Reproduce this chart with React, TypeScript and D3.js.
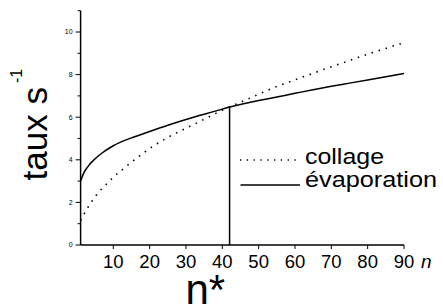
import React from "react";
import * as d3 from "d3";

const nEvap = [1, 2, 3, 5, 7, 10, 15, 20, 25, 30, 35, 40, 42, 45, 50, 55, 60, 65, 70, 75, 80, 85, 90];
const evaporation = [3.0, 3.42, 3.68, 4.05, 4.33, 4.66, 5.03, 5.33, 5.62, 5.89, 6.14, 6.38, 6.48, 6.6, 6.78, 6.95, 7.12, 7.29, 7.45, 7.6, 7.75, 7.9, 8.05];

const nColl = [1, 2, 3, 4, 5, 6, 8, 10, 12, 15, 18, 20, 22, 25, 30, 35, 40, 42, 45, 50, 55, 60, 65, 70, 75, 80, 85, 90];
const collage = [1.15, 1.47, 1.76, 2.03, 2.27, 2.48, 2.84, 3.18, 3.47, 3.89, 4.28, 4.53, 4.75, 5.05, 5.48, 5.9, 6.33, 6.48, 6.7, 7.08, 7.44, 7.75, 8.06, 8.37, 8.66, 8.96, 9.23, 9.5];

const xTicks = [10, 20, 30, 40, 50, 60, 70, 80, 90];
const yMajor = [0, 2, 4, 6, 8, 10];
const yMinor = [1, 3, 5, 7, 9, 11];
const nStar = 42;
const nStarValue = 6.48;

const FONT = "'Liberation Sans', Arial, Helvetica, sans-serif";

export default function App() {
  const W = 443, H = 307;
  const x = d3.scaleLinear().domain([1, 90]).range([80.6, 404]);
  const y = d3.scaleLinear().domain([0, 11]).range([245, 10.7]);

  const line = d3
    .line<[number, number]>()
    .x((d) => x(d[0]))
    .y((d) => y(d[1]))
    .curve(d3.curveMonotoneX);

  const evapPath = line(nEvap.map((n, i) => [n, evaporation[i]] as [number, number])) || "";
  const collPath = line(nColl.map((n, i) => [n, collage[i]] as [number, number])) || "";

  const x0 = x(1);
  const y0 = y(0);

  return (
    <svg
      width={W}
      height={H}
      style={{ position: "absolute", left: 0, top: 0, background: "#fff" }}
      fontFamily={FONT}
    >
      <rect width={W} height={H} fill="#fff" />
      {/* curves */}
      <path d={collPath} fill="none" stroke="#000" strokeWidth={1.6} strokeDasharray="1.5 5.8" />
      <path d={evapPath} fill="none" stroke="#000" strokeWidth={1.5} />
      {/* n* vertical line */}
      <line x1={x(nStar)} x2={x(nStar)} y1={y0} y2={y(nStarValue)} stroke="#000" strokeWidth={1.5} />

      {/* axes */}
      <line x1={x0} x2={x0} y1={y0} y2={y(11)} stroke="#000" strokeWidth={1.5} />
      <line x1={x0} x2={x(90)} y1={y0} y2={y0} stroke="#000" strokeWidth={1.5} />

      {yMajor.map((v) => (
        <g key={"ym" + v}>
          <line x1={x0 - 5} x2={x0} y1={y(v)} y2={y(v)} stroke="#000" strokeWidth={1} />
          <text x={x0 - 8} y={y(v)} dy="0.35em" fontSize={7} textAnchor="end" fill="#000">
            {v}
          </text>
        </g>
      ))}
      {yMinor.map((v) => (
        <line key={"yn" + v} x1={x0 - 3} x2={x0} y1={y(v)} y2={y(v)} stroke="#000" strokeWidth={1} />
      ))}

      {xTicks.map((v) => (
        <g key={"xt" + v}>
          <line x1={x(v)} x2={x(v)} y1={y0} y2={y0 + 4} stroke="#000" strokeWidth={1} />
          <text x={x(v)} y={268} fontSize={18.5} textAnchor="middle" fill="#000">
            {v}
          </text>
        </g>
      ))}
      <text x={421} y={268} fontSize={19} fontStyle="italic" fill="#000">
        n
      </text>

      {/* n* label */}
      <text x={185.5} y={304} fontSize={42} fill="#000">
        n*
      </text>

      {/* y axis label */}
      <text transform="translate(47,180.5) rotate(-90)" fontSize={35} fill="#000">
        taux s
      </text>
      <text transform="translate(22,83) rotate(-90)" fontSize={16} fill="#000">
        -1
      </text>

      {/* legend */}
      <line x1={240} x2={296} y1={160} y2={160} stroke="#000" strokeWidth={1.3} strokeDasharray="1.3 5.5" />
      <text x={305} y={164} fontSize={22} textLength={79} lengthAdjust="spacingAndGlyphs" fill="#000">
        collage
      </text>
      <line x1={240.5} x2={300} y1={185} y2={185} stroke="#000" strokeWidth={1.5} />
      <text x={305} y={186.7} fontSize={22} textLength={132} lengthAdjust="spacingAndGlyphs" fill="#000">
        évaporation
      </text>
    </svg>
  );
}
